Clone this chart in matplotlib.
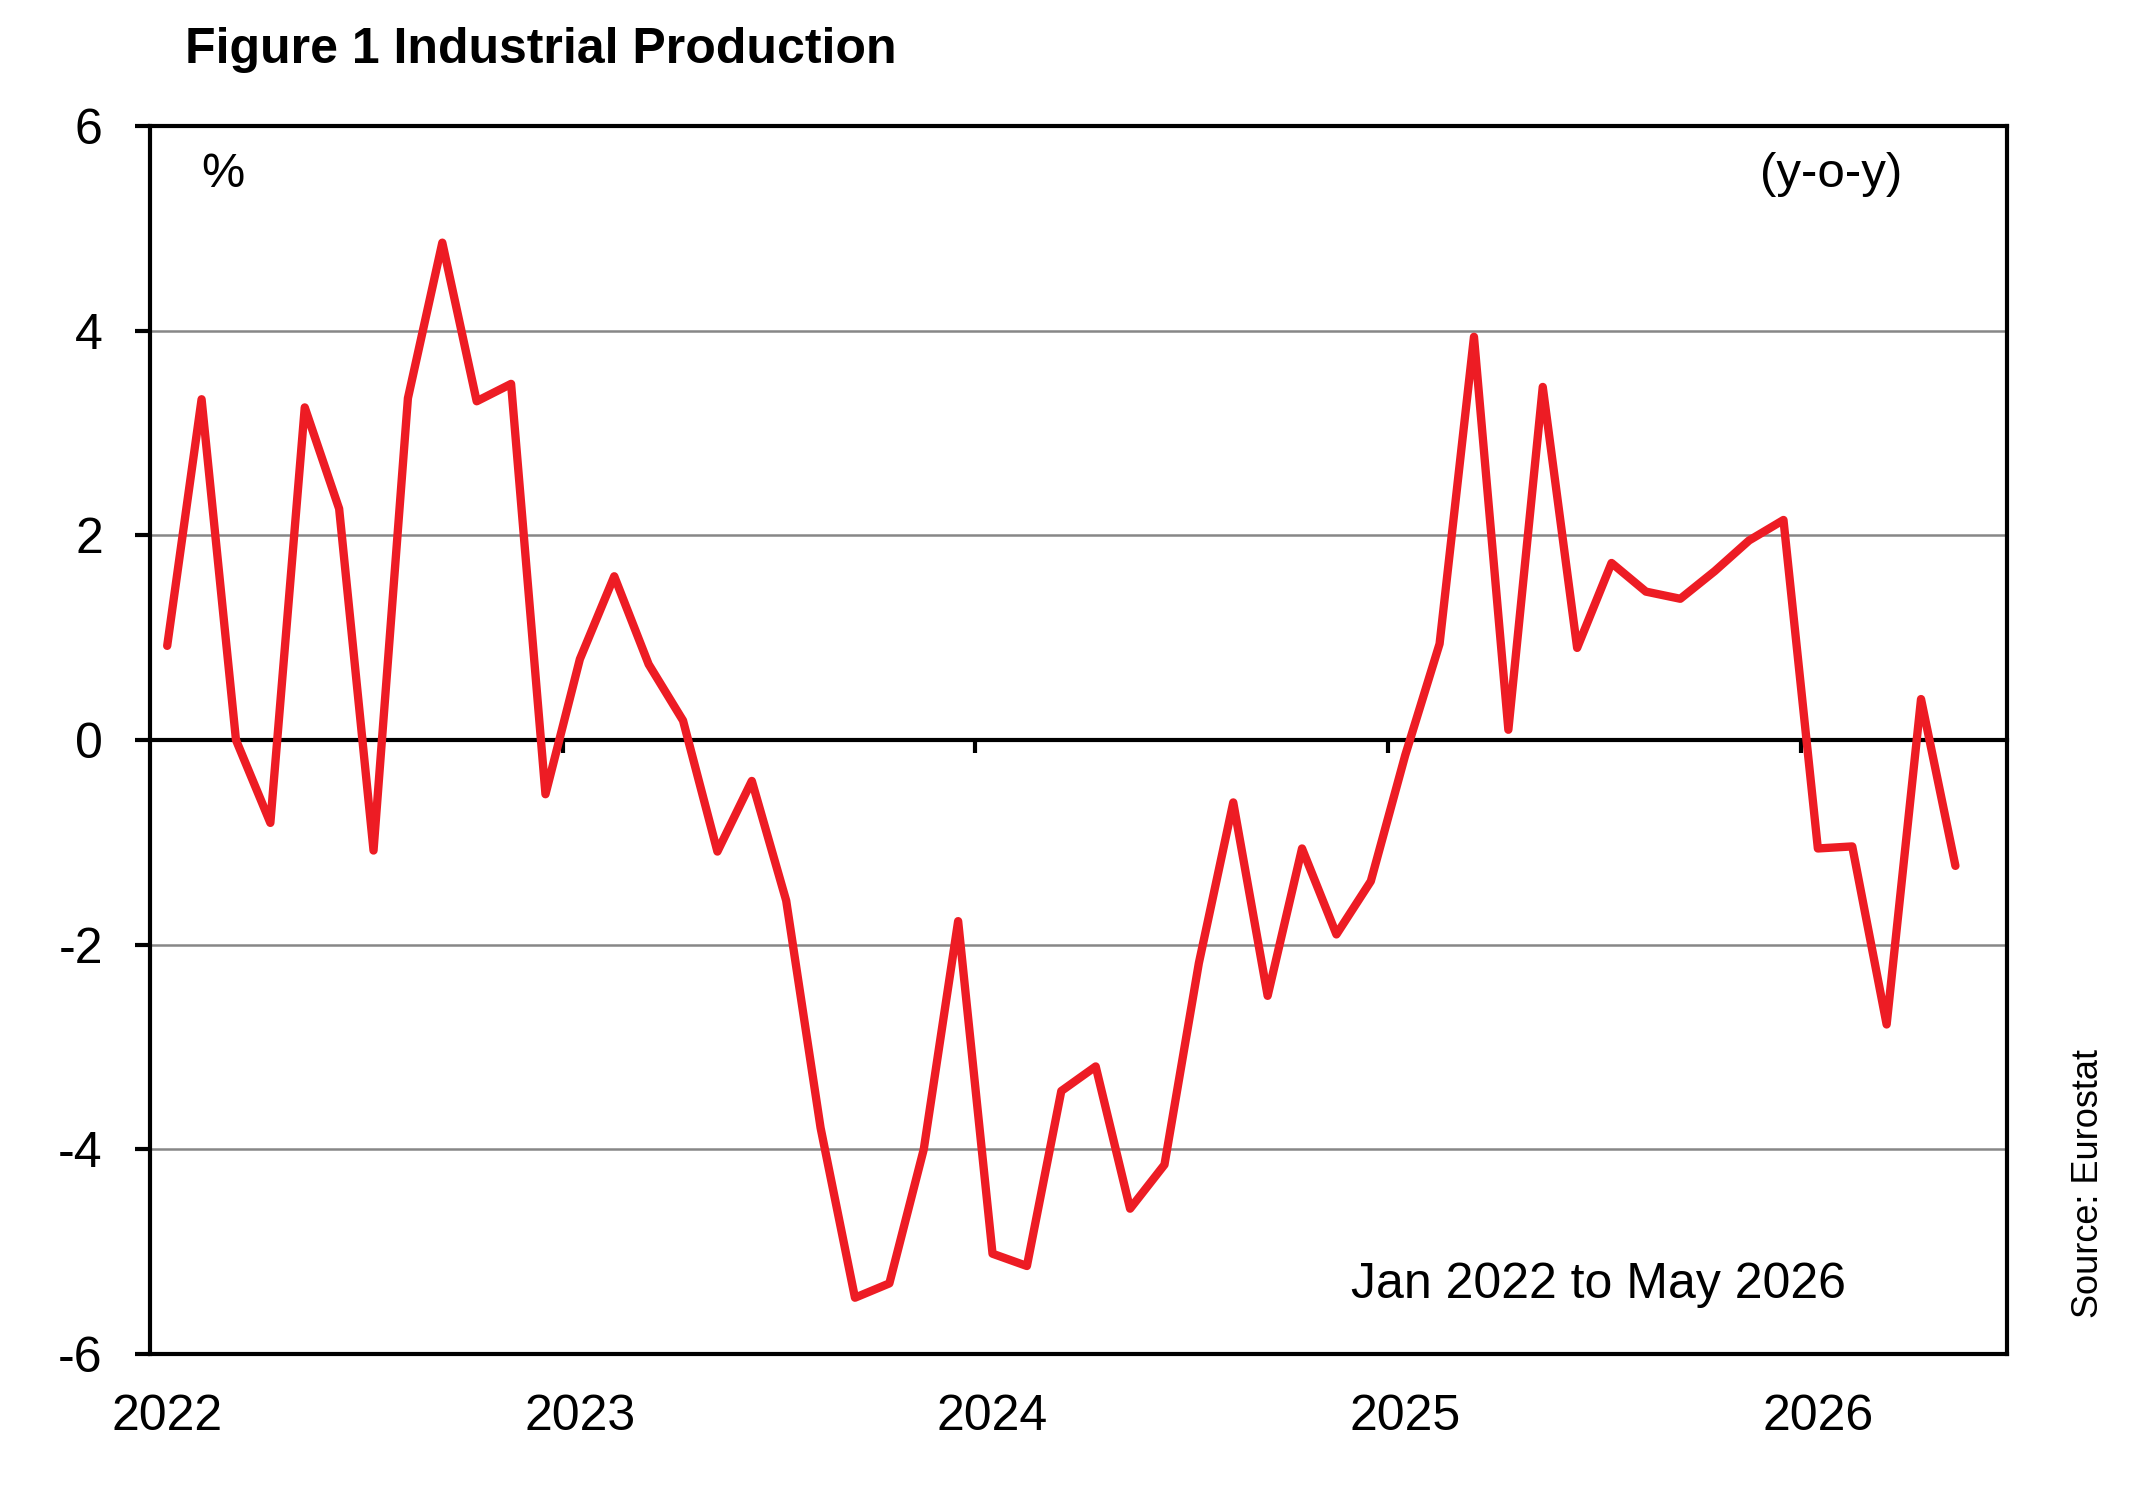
import matplotlib

matplotlib.use("Agg")

import matplotlib.pyplot as plt
import numpy as np

plt.rcParams["font.family"] = ["Liberation Sans", "DejaVu Sans"]
plt.rcParams["axes.unicode_minus"] = False

# monthly y-o-y change, Jan 2022 .. May 2026
YOY = [
    0.92, 3.33, 0.0, -0.81, 3.25, 2.26, -1.08, 3.34, 4.86, 3.31, 3.48, -0.53,   # 2022
    0.79, 1.60, 0.74, 0.19, -1.09, -0.40, -1.57, -3.79, -5.45, -5.31, -4.00, -1.77,  # 2023
    -5.02, -5.14, -3.43, -3.19, -4.58, -4.15, -2.18, -0.61, -2.50, -1.06, -1.90, -1.38,  # 2024
    -0.15, 0.94, 3.94, 0.10, 3.45, 0.90, 1.73, 1.45, 1.38, 1.65, 1.95, 2.15,  # 2025
    -1.06, -1.04, -2.78, 0.40, -1.23,  # 2026
]
YEARS = [2022, 2023, 2024, 2025, 2026]
Y_TICKS = [-6, -4, -2, 0, 2, 4, 6]

RED = "#ED1C24"
GRID = "#878787"
W, H = 2148, 1499

fig = plt.figure(figsize=(W / 100, H / 100), dpi=100)
ax = fig.add_axes([150 / W, 145 / H, 1857 / W, 1228 / H])

months = np.arange(len(YOY))
ax.plot(months, YOY, color=RED, linewidth=6, solid_capstyle="round", zorder=3)

ax.set_xlim(-0.5, len(YOY) + 0.5)
ax.set_ylim(Y_TICKS[0], Y_TICKS[-1])
ax.set_yticks(Y_TICKS)
ax.tick_params(axis="y", direction="out", length=11, width=3, labelsize=36, pad=23)
ax.yaxis.grid(True, color=GRID, linewidth=1.8)
ax.set_axisbelow(True)

year_pos = [(y - YEARS[0]) * 12 for y in YEARS]
ax.set_xticks(year_pos)
ax.set_xticklabels([str(y) for y in YEARS])
ax.tick_params(axis="x", length=0, labelsize=36, pad=29)
for side in ("left", "right", "top", "bottom"):
    ax.spines[side].set_linewidth(3)

# zero line with year-boundary ticks
zero = ax.secondary_xaxis(0, transform=ax.transData)
zero.set_xticks([p - 0.5 for p in year_pos[1:]])
zero.tick_params(direction="out", length=9, width=3, labelbottom=False)
zero.spines["bottom"].set_linewidth(3)
zero.set_zorder(1)

fig.text(185 / W, 1 - 63 / H, "Figure 1 Industrial Production",
         fontsize=36, fontweight="bold", va="baseline", ha="left")
fig.text(201 / W, 1 - 187 / H, "%", fontsize=35, va="baseline", ha="left")
fig.text(1760 / W, 1 - 187 / H, "(y-o-y)", fontsize=35.5, va="baseline", ha="left")
fig.text(1351 / W, 1 - 1298 / H, "Jan 2022 to May 2026", fontsize=36,
         va="baseline", ha="left")
fig.text(2089 / W, 1 - 1184 / H, "Source: Eurostat", fontsize=26,
         rotation=90, va="center", ha="center")

fig.savefig("out.png", dpi=100, facecolor="white")
